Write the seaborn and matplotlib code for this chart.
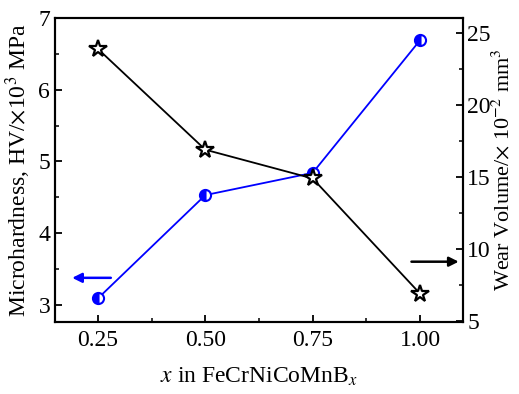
import matplotlib
matplotlib.use("Agg")
import matplotlib.pyplot as plt
import seaborn as sns
import pandas as pd
from matplotlib.ticker import MultipleLocator

x_vals = [0.25, 0.50, 0.75, 1.00]
hardness = [3.09, 4.53, 4.84, 6.69]
wear = [23.9, 16.9, 14.9, 6.9]
x_ticklabels = ["0.25", "0.50", "0.75", "1.00"]

sns.set_style("ticks")
plt.rcParams["font.family"] = ["Liberation Serif", "DejaVu Serif"]
plt.rcParams["mathtext.fontset"] = "stix"
plt.rcParams["xtick.direction"] = "in"
plt.rcParams["ytick.direction"] = "in"
for k in ["text.color", "axes.labelcolor", "xtick.color", "ytick.color",
          "axes.edgecolor"]:
    plt.rcParams[k] = "black"

df = pd.DataFrame({"x": x_vals, "hv": hardness, "wv": wear})

fig = plt.figure(figsize=(5.19, 3.94), dpi=100)
ax = fig.add_axes([55/519, 1-322/394, (463-55)/519, (322-18)/394])
ax2 = ax.twinx()

sns.lineplot(data=df, x="x", y="hv", ax=ax, color="#0000ff", lw=1.3,
             marker="o", markersize=8, fillstyle="left",
             markerfacecolor="#0000ff", markerfacecoloralt="white",
             markeredgecolor="#0000ff", markeredgewidth=1.5)
sns.lineplot(data=df, x="x", y="wv", ax=ax2, color="black", lw=1.3,
             marker="*", markersize=13, markerfacecolor="white",
             markeredgecolor="black", markeredgewidth=1.6)

ax.set_xlim(0.15, 1.1)
ax.set_ylim(2.76, 7.0)
ax2.set_ylim(4.93, 26.05)
ax.set_xticks(x_vals)
ax.set_xticklabels(x_ticklabels)
ax.xaxis.set_minor_locator(MultipleLocator(0.125))
ax.yaxis.set_major_locator(MultipleLocator(1))
ax.yaxis.set_minor_locator(MultipleLocator(0.5))
ax2.yaxis.set_major_locator(MultipleLocator(5))
ax2.yaxis.set_minor_locator(MultipleLocator(2.5))

for a in (ax, ax2):
    for s in a.spines.values():
        s.set_linewidth(1.5)
        s.set_visible(True)
        s.set_color("black")
    a.tick_params(which="major", length=5, width=1.3, labelsize=17,
                  colors="black")
    a.tick_params(which="minor", length=3, width=1.1, colors="black")
ax.tick_params(axis="both", which="both", top=False, right=False)
ax.tick_params(axis="x", pad=6)
ax2.tick_params(axis="y", which="both", right=True, left=False)
ax2.tick_params(axis="y", pad=3)

ax.set_xlabel(r"$\mathit{x}$ in FeCrNiCoMnB$_{x}$", fontsize=17, labelpad=10)
ax.set_ylabel(r"Microhardness, HV/$\times$10$^3$ MPa", fontsize=17, labelpad=4)
ax2.set_ylabel(r"Wear Volume/$\times$ 10$^{-2}$ mm$^3$", fontsize=16, labelpad=1)

ax.annotate("", xy=(0.19, 3.376), xytext=(0.28, 3.376),
            arrowprops=dict(arrowstyle="-|>", color="#0000ff", lw=1.8,
                            mutation_scale=14, shrinkA=0, shrinkB=0))
ax2.annotate("", xy=(1.09, 9.12), xytext=(0.98, 9.12),
             arrowprops=dict(arrowstyle="-|>", color="black", lw=1.8,
                             mutation_scale=14, shrinkA=0, shrinkB=0))

fig.savefig("out.png", dpi=100)
